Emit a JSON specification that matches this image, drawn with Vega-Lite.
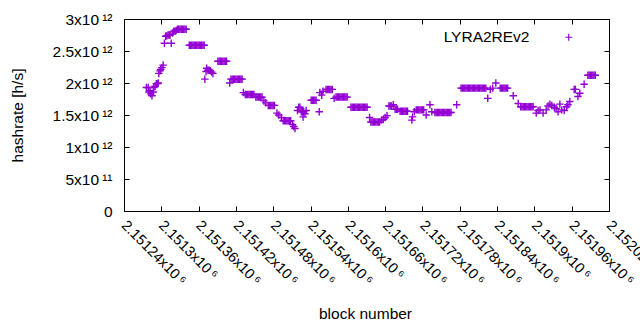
{
"$schema": "https://vega.github.io/schema/vega-lite/v6.json",
"width": 485, "height": 192,
"autosize": "none",
"padding": {"left": 124, "top": 19, "right": 31, "bottom": 119},
"background": "white",
"config": {"font": "Liberation Sans", "view": {"stroke": "black", "strokeWidth": 1}},
"data": {"values": [
{"b":2151276,"h":1.93e12},{"b":2151279,"h":1.93e12},{"b":2151280,"h":1.86e12},{"b":2151282,"h":1.88e12},{"b":2151283,"h":1.83e12},{"b":2151285,"h":1.80e12},{"b":2151287,"h":1.86e12},{"b":2151288,"h":1.93e12},{"b":2151290,"h":1.95e12},{"b":2151292,"h":1.99e12},{"b":2151294,"h":1.99e12},{"b":2151295,"h":2.00e12},{"b":2151296,"h":2.15e12},{"b":2151298,"h":2.19e12},{"b":2151299,"h":2.21e12},{"b":2151301,"h":2.24e12},{"b":2151303,"h":2.28e12},{"b":2151305,"h":2.62e12},{"b":2151307,"h":2.73e12},{"b":2151309,"h":2.74e12},{"b":2151311,"h":2.75e12},{"b":2151313,"h":2.75e12},{"b":2151314,"h":2.75e12},{"b":2151316,"h":2.62e12},{"b":2151318,"h":2.78e12},{"b":2151320,"h":2.81e12},{"b":2151322,"h":2.81e12},{"b":2151324,"h":2.82e12},
{"b":2151326,"h":2.84e12},{"b":2151328,"h":2.84e12},{"b":2151330,"h":2.84e12},{"b":2151332,"h":2.84e12},{"b":2151334,"h":2.84e12},{"b":2151336,"h":2.84e12},{"b":2151338,"h":2.84e12},{"b":2151340,"h":2.84e12},
{"b":2151345,"h":2.59e12},{"b":2151347,"h":2.59e12},{"b":2151349,"h":2.59e12},{"b":2151351,"h":2.59e12},{"b":2151353,"h":2.59e12},{"b":2151355,"h":2.59e12},{"b":2151357,"h":2.59e12},{"b":2151359,"h":2.59e12},{"b":2151361,"h":2.59e12},{"b":2151363,"h":2.59e12},{"b":2151365,"h":2.59e12},{"b":2151367,"h":2.59e12},{"b":2151369,"h":2.59e12},
{"b":2151370,"h":2.06e12},{"b":2151372,"h":2.18e12},{"b":2151373,"h":2.23e12},{"b":2151375,"h":2.20e12},{"b":2151377,"h":2.20e12},{"b":2151379,"h":2.19e12},{"b":2151381,"h":2.17e12},{"b":2151383,"h":2.15e12},
{"b":2151391,"h":2.34e12},{"b":2151393,"h":2.34e12},{"b":2151395,"h":2.34e12},{"b":2151397,"h":2.34e12},{"b":2151399,"h":2.34e12},{"b":2151401,"h":2.34e12},{"b":2151403,"h":2.34e12},{"b":2151405,"h":2.34e12},
{"b":2151410,"h":2.00e12},
{"b":2151412,"h":2.06e12},{"b":2151414,"h":2.06e12},{"b":2151416,"h":2.06e12},{"b":2151418,"h":2.06e12},{"b":2151420,"h":2.06e12},{"b":2151422,"h":2.06e12},{"b":2151424,"h":2.06e12},{"b":2151426,"h":2.06e12},{"b":2151428,"h":2.06e12},{"b":2151430,"h":2.06e12},
{"b":2151432,"h":1.85e12},
{"b":2151435,"h":1.82e12},{"b":2151437,"h":1.82e12},{"b":2151439,"h":1.82e12},{"b":2151441,"h":1.82e12},{"b":2151443,"h":1.82e12},{"b":2151445,"h":1.82e12},{"b":2151447,"h":1.82e12},{"b":2151449,"h":1.82e12},
{"b":2151452,"h":1.78e12},{"b":2151454,"h":1.78e12},{"b":2151456,"h":1.78e12},{"b":2151458,"h":1.78e12},{"b":2151460,"h":1.78e12},{"b":2151462,"h":1.78e12},
{"b":2151465,"h":1.72e12},{"b":2151468,"h":1.69e12},
{"b":2151472,"h":1.65e12},{"b":2151474,"h":1.65e12},{"b":2151476,"h":1.65e12},{"b":2151478,"h":1.65e12},{"b":2151480,"h":1.65e12},{"b":2151482,"h":1.65e12},
{"b":2151486,"h":1.53e12},{"b":2151489,"h":1.50e12},{"b":2151493,"h":1.46e12},
{"b":2151496,"h":1.41e12},{"b":2151498,"h":1.41e12},{"b":2151500,"h":1.41e12},{"b":2151502,"h":1.41e12},{"b":2151504,"h":1.41e12},{"b":2151506,"h":1.41e12},{"b":2151508,"h":1.41e12},
{"b":2151511,"h":1.35e12},{"b":2151513,"h":1.32e12},{"b":2151515,"h":1.29e12},{"b":2151519,"h":1.57e12},{"b":2151521,"h":1.62e12},{"b":2151523,"h":1.62e12},{"b":2151525,"h":1.55e12},{"b":2151527,"h":1.55e12},{"b":2151528,"h":1.47e12},{"b":2151529,"h":1.55e12},{"b":2151531,"h":1.52e12},{"b":2151533,"h":1.57e12},
{"b":2151541,"h":1.73e12},{"b":2151543,"h":1.73e12},{"b":2151545,"h":1.73e12},{"b":2151547,"h":1.73e12},{"b":2151549,"h":1.73e12},
{"b":2151554,"h":1.55e12},{"b":2151555,"h":1.85e12},{"b":2151558,"h":1.81e12},{"b":2151560,"h":1.87e12},
{"b":2151565,"h":1.90e12},{"b":2151567,"h":1.90e12},{"b":2151569,"h":1.90e12},{"b":2151571,"h":1.90e12},{"b":2151573,"h":1.90e12},{"b":2151575,"h":1.90e12},
{"b":2151578,"h":1.76e12},
{"b":2151581,"h":1.78e12},{"b":2151583,"h":1.78e12},{"b":2151585,"h":1.78e12},{"b":2151587,"h":1.78e12},{"b":2151589,"h":1.78e12},{"b":2151591,"h":1.78e12},{"b":2151593,"h":1.78e12},{"b":2151595,"h":1.78e12},{"b":2151597,"h":1.78e12},{"b":2151599,"h":1.78e12},
{"b":2151605,"h":1.62e12},{"b":2151607,"h":1.62e12},{"b":2151609,"h":1.62e12},{"b":2151611,"h":1.62e12},{"b":2151613,"h":1.62e12},{"b":2151615,"h":1.62e12},{"b":2151617,"h":1.62e12},{"b":2151619,"h":1.62e12},{"b":2151621,"h":1.62e12},{"b":2151623,"h":1.62e12},{"b":2151625,"h":1.62e12},{"b":2151627,"h":1.62e12},{"b":2151629,"h":1.62e12},{"b":2151631,"h":1.62e12},
{"b":2151635,"h":1.46e12},
{"b":2151637,"h":1.39e12},{"b":2151639,"h":1.39e12},{"b":2151641,"h":1.39e12},{"b":2151643,"h":1.39e12},{"b":2151645,"h":1.39e12},{"b":2151647,"h":1.39e12},{"b":2151649,"h":1.39e12},{"b":2151651,"h":1.39e12},
{"b":2151654,"h":1.42e12},{"b":2151657,"h":1.43e12},{"b":2151660,"h":1.46e12},{"b":2151663,"h":1.49e12},
{"b":2151666,"h":1.64e12},{"b":2151668,"h":1.64e12},{"b":2151670,"h":1.64e12},{"b":2151673,"h":1.66e12},
{"b":2151676,"h":1.59e12},{"b":2151678,"h":1.59e12},{"b":2151680,"h":1.59e12},
{"b":2151684,"h":1.56e12},{"b":2151686,"h":1.56e12},{"b":2151688,"h":1.56e12},{"b":2151690,"h":1.56e12},{"b":2151692,"h":1.56e12},{"b":2151694,"h":1.56e12},{"b":2151696,"h":1.56e12},
{"b":2151703,"h":1.42e12},{"b":2151704,"h":1.47e12},{"b":2151707,"h":1.55e12},
{"b":2151710,"h":1.58e12},{"b":2151712,"h":1.58e12},{"b":2151714,"h":1.58e12},{"b":2151716,"h":1.58e12},{"b":2151718,"h":1.58e12},{"b":2151720,"h":1.58e12},{"b":2151722,"h":1.58e12},
{"b":2151726,"h":1.50e12},{"b":2151732,"h":1.66e12},{"b":2151735,"h":1.55e12},
{"b":2151740,"h":1.54e12},{"b":2151742,"h":1.54e12},{"b":2151744,"h":1.54e12},{"b":2151746,"h":1.54e12},{"b":2151748,"h":1.54e12},{"b":2151750,"h":1.54e12},{"b":2151752,"h":1.54e12},{"b":2151754,"h":1.54e12},{"b":2151756,"h":1.54e12},{"b":2151758,"h":1.54e12},{"b":2151760,"h":1.54e12},{"b":2151762,"h":1.54e12},{"b":2151764,"h":1.54e12},{"b":2151766,"h":1.54e12},
{"b":2151775,"h":1.66e12},
{"b":2151782,"h":1.92e12},{"b":2151784,"h":1.92e12},{"b":2151786,"h":1.92e12},{"b":2151788,"h":1.92e12},{"b":2151790,"h":1.92e12},{"b":2151792,"h":1.92e12},{"b":2151794,"h":1.92e12},{"b":2151796,"h":1.92e12},{"b":2151798,"h":1.92e12},{"b":2151800,"h":1.92e12},{"b":2151802,"h":1.92e12},{"b":2151804,"h":1.92e12},{"b":2151806,"h":1.92e12},{"b":2151808,"h":1.92e12},{"b":2151810,"h":1.92e12},{"b":2151812,"h":1.92e12},{"b":2151814,"h":1.92e12},{"b":2151816,"h":1.92e12},{"b":2151818,"h":1.92e12},{"b":2151820,"h":1.92e12},{"b":2151822,"h":1.92e12},
{"b":2151825,"h":1.76e12},{"b":2151829,"h":1.90e12},{"b":2151833,"h":1.92e12},{"b":2151838,"h":2.00e12},
{"b":2151845,"h":1.92e12},{"b":2151847,"h":1.92e12},{"b":2151849,"h":1.92e12},{"b":2151851,"h":1.92e12},{"b":2151853,"h":1.92e12},{"b":2151855,"h":1.92e12},{"b":2151857,"h":1.92e12},
{"b":2151866,"h":1.80e12},{"b":2151874,"h":1.68e12},
{"b":2151878,"h":1.63e12},{"b":2151880,"h":1.63e12},{"b":2151882,"h":1.63e12},{"b":2151884,"h":1.63e12},{"b":2151886,"h":1.63e12},{"b":2151888,"h":1.63e12},{"b":2151890,"h":1.63e12},{"b":2151892,"h":1.63e12},{"b":2151894,"h":1.63e12},{"b":2151896,"h":1.63e12},{"b":2151898,"h":1.63e12},
{"b":2151903,"h":1.53e12},{"b":2151906,"h":1.57e12},{"b":2151909,"h":1.58e12},{"b":2151914,"h":1.53e12},{"b":2151919,"h":1.58e12},{"b":2151922,"h":1.64e12},{"b":2151925,"h":1.67e12},{"b":2151928,"h":1.65e12},{"b":2151932,"h":1.62e12},{"b":2151935,"h":1.60e12},{"b":2151938,"h":1.55e12},{"b":2151941,"h":1.67e12},{"b":2151944,"h":1.58e12},{"b":2151948,"h":1.57e12},{"b":2151952,"h":1.63e12},{"b":2151954,"h":1.66e12},{"b":2151957,"h":1.71e12},
{"b":2151964,"h":1.90e12},{"b":2151966,"h":1.90e12},{"b":2151970,"h":1.79e12},{"b":2151973,"h":1.84e12},{"b":2151980,"h":1.98e12},
{"b":2151986,"h":2.12e12},{"b":2151988,"h":2.12e12},{"b":2151990,"h":2.12e12},{"b":2151992,"h":2.12e12},{"b":2151994,"h":2.12e12},{"b":2151996,"h":2.12e12},{"b":2151998,"h":2.12e12}
]},
"layer": [
{
"mark": {"type": "point", "shape": "M-1,0H1M0,-1V1", "filled": false, "size": 56, "strokeWidth": 1.4, "opacity": 1},
"encoding": {
"x": {"field": "b", "type": "quantitative", "title": "block number",
 "scale": {"domain": [2151240, 2152020], "nice": false, "zero": false},
 "axis": {"values": [2151240,2151300,2151360,2151420,2151480,2151540,2151600,2151660,2151720,2151780,2151840,2151900,2151960,2152020],
  "labelExpr": "format(datum.value/1e6, '.6~g') + 'x10\u2009⁶'",
  "labelAngle": 45, "labelAlign": "left", "labelBaseline": "top", "labelFontSize": 14.5, "labelColor": "black",
  "labelPadding": 12, "labelOffset": 4, "tickSize": -5, "tickColor": "black", "domain": false, "grid": false, "labelOverlap": false, "labelFlush": false, "labelBound": false,
  "titleFontSize": 15.5, "titleFontWeight": "normal", "titleColor": "black", "titleX": 241, "titleY": 102, "titleBaseline": "middle", "titleAlign": "center"}},
"y": {"field": "h", "type": "quantitative", "title": "hashrate [h/s]",
 "scale": {"domain": [0, 3e12], "nice": false, "zero": true},
 "axis": {"values": [0, 5e11, 1e12, 1.5e12, 2e12, 2.5e12, 3e12],
  "labelExpr": "datum.value == 0 ? '0' : (datum.value < 1e12 ? format(datum.value/1e11, '~g') + 'x10\u2009¹¹' : format(datum.value/1e12, '~g') + 'x10\u2009¹²')",
  "labelFontSize": 15.5, "labelColor": "black", "labelPadding": 17, "tickSize": -5, "tickColor": "black", "domain": false, "grid": false, "labelOverlap": false, "labelFlush": false, "labelBound": false,
  "titleFontSize": 15.5, "titleFontWeight": "normal", "titleColor": "black", "titleX": -107, "titleY": 96, "titleBaseline": "middle", "titleAlign": "center", "titleAngle": -90}},
"color": {"datum": "LYRA2REv2", "type": "nominal", "scale": {"range": ["#9400d3"]},
 "legend": {"title": null, "orient": "none", "legendX": 437, "legendY": 10.5, "padding": 0,
  "symbolType": "M-1,0H1M0,-1V1", "symbolSize": 49, "symbolStrokeWidth": 1.2, "symbolFillColor": "transparent", "symbolStrokeColor": "#9400d3",
  "labelAlign": "right", "labelOffset": -47, "labelFontSize": 15.5, "labelColor": "black", "labelLimit": 0}}
}
},
{
"mark": {"type": "point", "opacity": 0},
"encoding": {
"x": {"field": "b", "type": "quantitative", "axis": {"orient": "top", "values": [2151240,2151300,2151360,2151420,2151480,2151540,2151600,2151660,2151720,2151780,2151840,2151900,2151960,2152020], "labels": false, "title": null, "tickSize": -5, "tickColor": "black", "domain": false, "grid": false}},
"y": {"field": "h", "type": "quantitative", "axis": {"orient": "right", "values": [0, 5e11, 1e12, 1.5e12, 2e12, 2.5e12, 3e12], "labels": false, "title": null, "tickSize": -5, "tickColor": "black", "domain": false, "grid": false}}
}
}
],
"resolve": {"axis": {"x": "independent", "y": "independent"}}
}
